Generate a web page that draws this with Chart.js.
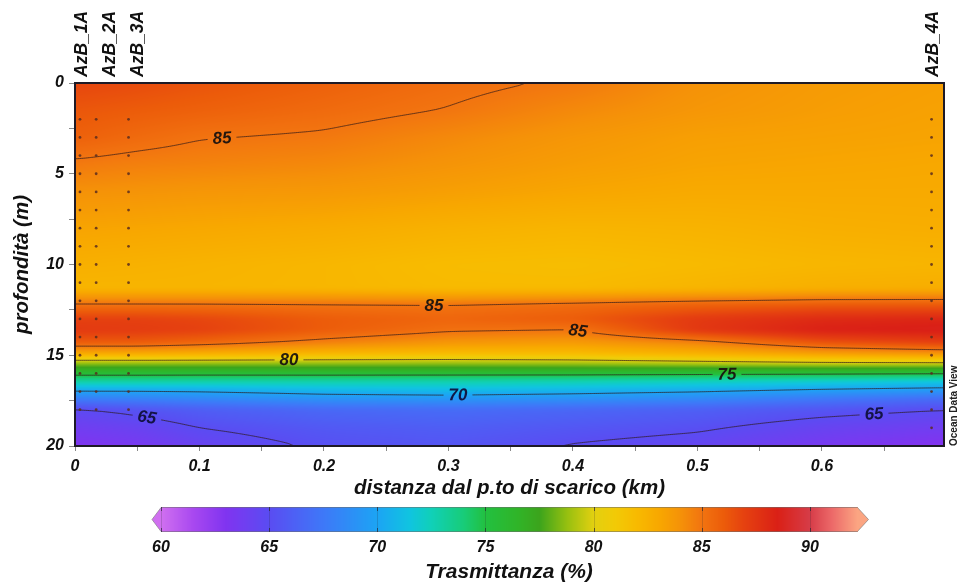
<!DOCTYPE html>
<html>
<head>
<meta charset="utf-8">
<script src="https://cdn.jsdelivr.net/npm/chart.js@4/dist/chart.umd.min.js"></script>
<style>
  html, body { margin: 0; padding: 0; background: #ffffff; }
  #wrap { width: 959px; height: 585px; }
</style>
</head>
<body>
<div id="wrap"><canvas id="sezione" width="959" height="585"></canvas></div>
<script>
// ---- Section data: transmittance along the outfall transect ----

// horizontal grid nodes (km from the discharge point)
const GRID_KM = [0, 0.05, 0.1, 0.2, 0.3, 0.4, 0.5, 0.6, 0.698];
// vertical grid nodes (depth, m)
const GRID_DEPTH = [0, 1.5, 3, 4.5, 6, 8, 10, 11.3, 12.2, 13, 13.6, 14.3, 14.9, 15.4, 15.9, 16.4, 16.9, 17.4, 18, 19, 20];
// transmittance (%) – one row per GRID_DEPTH, one column per GRID_KM
const TRASMITTANZA = [
  [86.8, 86.6, 86.3, 85.8, 85.3, 84.85, 84.0, 83.6, 83.4],  // 0 m
  [86.2, 86.0, 85.8, 85.4, 84.95, 84.3, 83.8, 83.5, 83.3],  // 1.5 m
  [85.8, 85.4, 85.05, 84.85, 84.3, 83.8, 83.4, 83.3, 83.2], // 3 m
  [84.8, 84.6, 84.5, 84.3, 83.9, 83.5, 83.2, 83.1, 83.0],   // 4.5 m
  [84.0, 83.9, 83.8, 83.7, 83.4, 83.1, 82.9, 82.9, 82.9],   // 6 m
  [83.2, 83.1, 83.0, 82.8, 82.5, 82.3, 82.4, 82.6, 82.7],   // 8 m
  [82.6, 82.5, 82.4, 82.2, 81.9, 81.8, 82.0, 82.2, 82.3],   // 10 m
  [82.3, 82.3, 82.3, 82.2, 82.0, 82.0, 82.3, 82.6, 82.7],   // 11.3 m
  [85.1, 85.1, 85.1, 85.05, 85.0, 85.3, 85.7, 86.0, 86.0],  // 12.2 m
  [87.0, 87.0, 86.8, 86.0, 85.6, 86.0, 87.3, 88.0, 88.2],   // 13 m
  [87.3, 87.2, 87.0, 86.0, 85.2, 85.0, 87.4, 88.5, 88.7],   // 13.6 m
  [86.0, 86.0, 85.6, 84.6, 83.8, 83.6, 84.5, 86.3, 87.0],   // 14.3 m
  [83.0, 83.0, 82.8, 82.3, 82.0, 82.0, 82.6, 83.5, 84.0],   // 14.9 m
  [79.0, 79.0, 79.0, 79.0, 79.0, 79.2, 79.6, 80.0, 80.1],   // 15.4 m
  [76.2, 76.2, 76.2, 76.3, 76.3, 76.3, 76.2, 76.1, 76.0],   // 15.9 m
  [73.2, 73.2, 73.1, 73.0, 72.9, 72.8, 72.5, 72.2, 71.8],   // 16.4 m
  [70.4, 70.4, 70.5, 71.0, 71.2, 70.9, 70.5, 69.9, 69.5],   // 16.9 m
  [67.8, 68.0, 68.3, 69.0, 69.2, 68.9, 68.4, 67.5, 66.8],   // 17.4 m
  [64.8, 65.4, 66.0, 66.6, 66.8, 66.5, 66.1, 65.5, 65.0],   // 18 m
  [63.8, 64.2, 65.0, 65.7, 66.0, 65.6, 65.2, 64.3, 63.8],   // 19 m
  [63.0, 63.4, 64.2, 65.2, 65.5, 64.9, 64.4, 63.4, 62.8]    // 20 m
];

// sampling stations
const STAZIONI = ['AzB_1A', 'AzB_2A', 'AzB_3A', 'AzB_4A'];
const STAZIONI_KM = [0.004, 0.017, 0.043, 0.688];
const CAMPIONI_1A = [2, 3, 4, 5, 6, 7, 8, 9, 10, 11, 12, 13, 14, 15, 16, 17, 18];
const CAMPIONI_2A = [2, 3, 4, 5, 6, 7, 8, 9, 10, 11, 12, 13, 14, 15, 16, 17, 18];
const CAMPIONI_3A = [2, 3, 4, 5, 6, 7, 8, 9, 10, 11, 12, 13, 14, 15, 16, 17, 18];
const CAMPIONI_4A = [2, 3, 4, 5, 6, 7, 8, 9, 10, 11, 12, 13, 14, 15, 16, 17, 18, 19];
const CAMPIONI = [CAMPIONI_1A, CAMPIONI_2A, CAMPIONI_3A, CAMPIONI_4A];

// axes
const X_MAX = 0.698;
const X_TICKS = [0, 0.05, 0.1, 0.15, 0.2, 0.25, 0.3, 0.35, 0.4, 0.45, 0.5, 0.55, 0.6, 0.65];
const X_TICK_LABELS = ['0', '', '0.1', '', '0.2', '', '0.3', '', '0.4', '', '0.5', '', '0.6', ''];
const Y_TICKS = [0, 2.5, 5, 7.5, 10, 12.5, 15, 17.5, 20];
const Y_TICK_LABELS = ['0', '', '5', '', '10', '', '15', '', '20'];

// isolines and their labels
const ISOLINEE = [65, 70, 75, 80, 85];
const ETICHETTE_VALORE = [85, 85, 85, 80, 75, 70, 65, 65];
const ETICHETTE_KM = [0.118, 0.288, 0.404, 0.172, 0.524, 0.308, 0.058, 0.642];
const ETICHETTE_DEPTH = [3.0, 12.2, 13.6, 15.1, 16.1, 17.2, 18.4, 18.0];

// colour scale
const PAL_VALUES = [58, 60, 61.5, 63, 65, 67.5, 70, 71.5, 72.5, 74, 75, 76.5, 77.5, 78.8, 80, 81, 82, 83, 84, 85, 86, 87, 88.5, 90, 91, 92.5, 94];
const PAL_COLORS = ['#e080f0', '#d070f0', '#a848f0', '#8034f0', '#5a4cf2', '#3e78f8', '#1ca4f4', '#10c4e0', '#10d0b8',
                    '#18cc78', '#22c040', '#30b428', '#3ca41c', '#98c010', '#e2d010', '#f2ca06', '#f8ba00', '#f8a800',
                    '#f59208', '#f27410', '#ec5c0a', '#e54010', '#da2016', '#d63c48', '#ec6868', '#ffb488', '#ffc098'];
const CB_TICKS = [60, 65, 70, 75, 80, 85, 90];
const CB_MIN = 60;
const CB_MAX = 92.2;

// ---- helpers ----
const FONT = '"Liberation Sans", Arial, Helvetica, sans-serif';
Chart.defaults.font.family = FONT;

const PAL_RGB = PAL_COLORS.map(h => [parseInt(h.slice(1, 3), 16), parseInt(h.slice(3, 5), 16), parseInt(h.slice(5, 7), 16)]);
function colourFor(v) {
  const n = PAL_VALUES.length;
  if (v <= PAL_VALUES[0]) return PAL_RGB[0];
  if (v >= PAL_VALUES[n - 1]) return PAL_RGB[n - 1];
  let k = 0;
  while (PAL_VALUES[k + 1] < v) k++;
  const t = (v - PAL_VALUES[k]) / (PAL_VALUES[k + 1] - PAL_VALUES[k]);
  const a = PAL_RGB[k], b = PAL_RGB[k + 1];
  return [a[0] + (b[0] - a[0]) * t, a[1] + (b[1] - a[1]) * t, a[2] + (b[2] - a[2]) * t];
}
function rgbStr(c) { return 'rgb(' + Math.round(c[0]) + ',' + Math.round(c[1]) + ',' + Math.round(c[2]) + ')'; }

function locate(arr, v) {
  const n = arr.length;
  if (v <= arr[0]) return [0, 0];
  if (v >= arr[n - 1]) return [n - 2, 1];
  let i = 0;
  while (arr[i + 1] < v) i++;
  return [i, (v - arr[i]) / (arr[i + 1] - arr[i])];
}
function fieldAt(km, z) {
  const [i, tx] = locate(GRID_KM, km);
  const [j, tz] = locate(GRID_DEPTH, z);
  const r0 = TRASMITTANZA[j], r1 = TRASMITTANZA[j + 1];
  const top = r0[i] * (1 - tx) + r0[i + 1] * tx;
  const bot = r1[i] * (1 - tx) + r1[i + 1] * tx;
  return top * (1 - tz) + bot * tz;
}
function blur(src, w, h, r, horizontal) {
  const out = new Float32Array(w * h);
  const n = 2 * r + 1;
  for (let j = 0; j < h; j++) {
    for (let i = 0; i < w; i++) {
      let s = 0;
      for (let k = -r; k <= r; k++) {
        if (horizontal) {
          let ii = i + k; if (ii < 0) ii = 0; else if (ii >= w) ii = w - 1;
          s += src[j * w + ii];
        } else {
          let jj = j + k; if (jj < 0) jj = 0; else if (jj >= h) jj = h - 1;
          s += src[jj * w + i];
        }
      }
      out[j * w + i] = s / n;
    }
  }
  return out;
}

// ---- gridded field, isolines and isoline labels ----
let fieldCache = null;
const fieldPlugin = {
  id: 'campo',
  beforeDatasetsDraw(chart) {
    const { ctx, chartArea: a, scales: { x, y } } = chart;
    const w = Math.round(a.right - a.left), h = Math.round(a.bottom - a.top);
    if (!fieldCache) {
      let vals = new Float32Array(w * h);
      for (let j = 0; j < h; j++) {
        const z = y.getValueForPixel(a.top + j + 0.5);
        for (let i = 0; i < w; i++) {
          const km = x.getValueForPixel(a.left + i + 0.5);
          vals[j * w + i] = fieldAt(km, z);
        }
      }
      for (let p = 0; p < 2; p++) {
        vals = blur(vals, w, h, 9, true);
        vals = blur(vals, w, h, 2, false);
      }
      const off = document.createElement('canvas');
      off.width = w; off.height = h;
      const octx = off.getContext('2d');
      const img = octx.createImageData(w, h);
      for (let k = 0; k < w * h; k++) {
        const c = colourFor(vals[k]);
        img.data[k * 4] = c[0]; img.data[k * 4 + 1] = c[1]; img.data[k * 4 + 2] = c[2]; img.data[k * 4 + 3] = 255;
      }
      octx.putImageData(img, 0, 0);
      fieldCache = { vals, off, w, h };
    }
    const { vals, off } = fieldCache;
    const V = (i, j) => vals[Math.max(0, Math.min(h - 1, j)) * w + Math.max(0, Math.min(w - 1, i))];
    ctx.drawImage(off, a.left, a.top);

    // label placement: snap onto the isoline, orient along it
    ctx.font = 'italic bold 17px ' + FONT;
    const labels = ETICHETTE_VALORE.map((lev, n) => {
      const px = Math.round(x.getPixelForValue(ETICHETTE_KM[n]) - a.left);
      let py = y.getPixelForValue(ETICHETTE_DEPTH[n]) - a.top;
      const p0 = Math.round(py);
      for (let d = 0; d <= 24; d++) {
        let found = false;
        for (const s of [1, -1]) {
          const jj = p0 + s * d;
          const v0 = V(px, jj) - lev, v1 = V(px, jj + 1) - lev;
          if (v0 === 0 || (v0 < 0) !== (v1 < 0)) { py = jj + v0 / (v0 - v1); found = true; break; }
        }
        if (found) break;
      }
      const pj = Math.round(py);
      const gx = V(px + 4, pj) - V(px - 4, pj);
      const gy = V(px, pj + 4) - V(px, pj - 4);
      let tx = gy, ty = -gx;
      if (tx < 0) { tx = -tx; ty = -ty; }
      const ang = Math.atan2(ty, tx);
      const tw = ctx.measureText(String(lev)).width;
      return { lev, cx: a.left + px, cy: a.top + py, ang, tw };
    });

    // isolines (broken where labels sit)
    ctx.save();
    ctx.beginPath();
    ctx.rect(a.left, a.top, w, h);
    labels.forEach(L => {
      const hw = L.tw / 2 + 5, hh = 9;
      const c = Math.cos(L.ang), s = Math.sin(L.ang);
      const pts = [[-hw, -hh], [hw, -hh], [hw, hh], [-hw, hh]].map(([u, v]) => [L.cx + u * c - v * s, L.cy + u * s + v * c]);
      ctx.moveTo(pts[0][0], pts[0][1]);
      for (let k = 1; k < 4; k++) ctx.lineTo(pts[k][0], pts[k][1]);
      ctx.closePath();
    });
    ctx.clip('evenodd');
    ctx.strokeStyle = 'rgba(45,25,25,0.7)';
    ctx.lineWidth = 1;
    const st = 2;
    ISOLINEE.forEach(lev => {
      ctx.beginPath();
      for (let j = 0; j + st < h; j += st) {
        for (let i = 0; i + st < w; i += st) {
          const va = V(i, j) - lev, vb = V(i + st, j) - lev, vc = V(i + st, j + st) - lev, vd = V(i, j + st) - lev;
          const pts = [];
          if ((va < 0) !== (vb < 0)) pts.push([i + st * va / (va - vb), j]);
          if ((vb < 0) !== (vc < 0)) pts.push([i + st, j + st * vb / (vb - vc)]);
          if ((vd < 0) !== (vc < 0)) pts.push([i + st * vd / (vd - vc), j + st]);
          if ((va < 0) !== (vd < 0)) pts.push([i, j + st * va / (va - vd)]);
          for (let k = 0; k + 1 < pts.length; k += 2) {
            ctx.moveTo(a.left + pts[k][0] + 0.5, a.top + pts[k][1] + 0.5);
            ctx.lineTo(a.left + pts[k + 1][0] + 0.5, a.top + pts[k + 1][1] + 0.5);
          }
        }
      }
      ctx.stroke();
    });
    ctx.restore();

    ctx.save();
    ctx.font = 'italic bold 17px ' + FONT;
    ctx.textAlign = 'center';
    ctx.textBaseline = 'middle';
    labels.forEach(L => {
      ctx.save();
      ctx.translate(L.cx, L.cy);
      ctx.rotate(L.ang);
      ctx.fillStyle = L.lev <= 70 ? 'rgba(16,16,60,0.95)' : 'rgba(25,18,15,0.95)';
      ctx.fillText(String(L.lev), 0, 1);
      ctx.restore();
    });
    ctx.restore();
  }
};

// ---- frame, station names, colour bar ----
const decorPlugin = {
  id: 'decor',
  afterDraw(chart) {
    const { ctx, chartArea: a, scales: { x } } = chart;
    ctx.save();
    ctx.strokeStyle = '#1e1a26';
    ctx.lineWidth = 2;
    ctx.strokeRect(a.left, a.top, a.right - a.left, a.bottom - a.top);

    // station names above the section, spread apart where stations crowd
    ctx.fillStyle = '#111';
    ctx.font = 'italic bold 17.5px ' + FONT;
    ctx.textAlign = 'left';
    ctx.textBaseline = 'middle';
    let prev = -Infinity;
    STAZIONI.forEach((name, k) => {
      const px = Math.max(x.getPixelForValue(STAZIONI_KM[k]) + 2, prev + 28);
      prev = px;
      ctx.save();
      ctx.translate(px, a.top - 6);
      ctx.rotate(-Math.PI / 2);
      ctx.fillText(name, 0, 0);
      ctx.restore();
    });

    // software credit
    ctx.save();
    ctx.font = 'bold 10px ' + FONT;
    ctx.fillStyle = '#222';
    ctx.translate(a.right + 10, a.bottom);
    ctx.rotate(-Math.PI / 2);
    ctx.fillText('Ocean Data View', 0, 0);
    ctx.restore();

    // colour bar
    const x0 = 161, ppu = 21.63, top = 507, bot = 532, mid = (top + bot) / 2;
    const px = v => x0 + (v - CB_MIN) * ppu;
    const xEnd = px(CB_MAX);
    for (let X = x0; X < xEnd; X += 1) {
      ctx.fillStyle = rgbStr(colourFor(CB_MIN + (X + 0.5 - x0) / ppu));
      ctx.fillRect(X, top, 1, bot - top);
    }
    ctx.fillStyle = rgbStr(colourFor(CB_MIN));
    ctx.beginPath(); ctx.moveTo(x0 + 0.5, top); ctx.lineTo(x0 - 9, mid); ctx.lineTo(x0 + 0.5, bot); ctx.closePath(); ctx.fill();
    ctx.fillStyle = rgbStr(colourFor(CB_MAX));
    ctx.beginPath(); ctx.moveTo(xEnd - 0.5, top); ctx.lineTo(xEnd + 11, mid); ctx.lineTo(xEnd - 0.5, bot); ctx.closePath(); ctx.fill();
    ctx.strokeStyle = 'rgba(110,110,110,0.55)';
    ctx.lineWidth = 1;
    ctx.beginPath();
    ctx.moveTo(x0, top + 0.5); ctx.lineTo(xEnd, top + 0.5); ctx.lineTo(xEnd + 11, mid); ctx.lineTo(xEnd, bot - 0.5);
    ctx.lineTo(x0, bot - 0.5); ctx.lineTo(x0 - 9, mid); ctx.closePath();
    ctx.stroke();
    CB_TICKS.forEach(v => {
      const X = Math.round(px(v)) + 0.5;
      ctx.strokeStyle = 'rgba(40,40,50,0.75)';
      ctx.beginPath();
      ctx.moveTo(X, top); ctx.lineTo(X, top + 4);
      ctx.moveTo(X, bot - 4); ctx.lineTo(X, bot);
      ctx.stroke();
      ctx.strokeStyle = 'rgba(40,40,50,0.2)';
      ctx.beginPath(); ctx.moveTo(X, top + 4); ctx.lineTo(X, bot - 4); ctx.stroke();
    });
    ctx.fillStyle = '#111';
    ctx.font = 'italic bold 16px ' + FONT;
    ctx.textAlign = 'center';
    ctx.textBaseline = 'middle';
    CB_TICKS.forEach(v => ctx.fillText(String(v), px(v), 548));
    ctx.font = 'italic bold 21px ' + FONT;
    ctx.fillText('Trasmittanza (%)', 509, 572);
    ctx.restore();
  }
};

// ---- chart ----
const tickFont = { size: 16, style: 'italic', weight: 'bold' };
const titleFont = { size: 20.5, style: 'italic', weight: 'bold', lineHeight: 1.2 };

new Chart(document.getElementById('sezione'), {
  type: 'scatter',
  data: {
    datasets: STAZIONI.map((name, k) => ({
      label: name,
      data: CAMPIONI[k].map(d => ({ x: STAZIONI_KM[k], y: d })),
      pointRadius: 1.4,
      pointBorderWidth: 0,
      pointBackgroundColor: 'rgba(90,45,30,0.85)',
      showLine: false
    }))
  },
  options: {
    responsive: false,
    animation: false,
    layout: { padding: { left: 0, right: 15, top: 83, bottom: 79 } },
    plugins: { legend: { display: false }, tooltip: { enabled: false } },
    scales: {
      x: {
        type: 'linear', min: 0, max: X_MAX,
        afterBuildTicks: s => { s.ticks = X_TICKS.map(v => ({ value: v })); },
        afterFit: s => { s.height = 60; },
        ticks: { autoSkip: false, maxRotation: 0, padding: 6, color: '#111', font: tickFont,
                 callback: (v, i) => X_TICK_LABELS[i] },
        grid: { drawOnChartArea: false, drawTicks: true, tickLength: 5, color: '#8a8a8a' },
        border: { display: false },
        title: { display: true, text: 'distanza dal p.to di scarico (km)', color: '#111', font: titleFont,
                 padding: { top: 0, bottom: 5 } }
      },
      y: {
        type: 'linear', reverse: true, min: 0, max: 20,
        afterBuildTicks: s => { s.ticks = Y_TICKS.map(v => ({ value: v })); },
        afterFit: s => { s.width = 75; },
        ticks: { autoSkip: false, padding: 5, color: '#111', font: tickFont,
                 callback: (v, i) => Y_TICK_LABELS[i] },
        grid: { drawOnChartArea: false, drawTicks: true, tickLength: 6, color: '#8a8a8a' },
        border: { display: false },
        title: { display: true, text: 'profondità (m)', color: '#111', font: titleFont,
                 padding: { top: 10, bottom: 0 } }
      }
    }
  },
  plugins: [fieldPlugin, decorPlugin]
});
</script>
</body>
</html>
